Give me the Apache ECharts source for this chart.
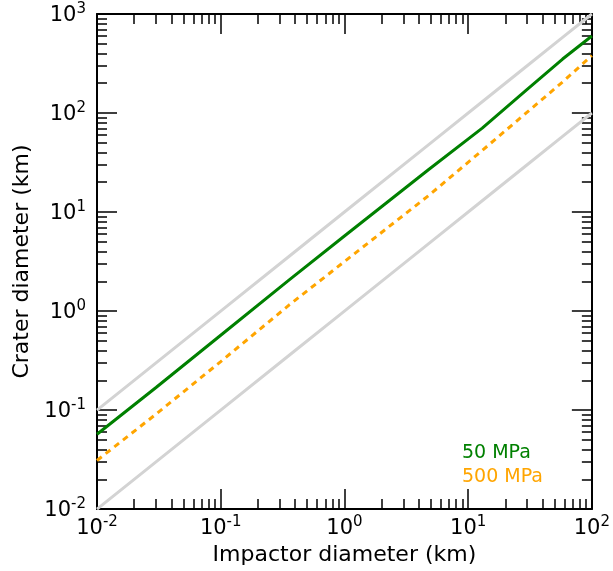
<!DOCTYPE html>
<html>
<head>
<meta charset="utf-8">
<script src="https://cdn.jsdelivr.net/npm/echarts@6/dist/echarts.min.js"></script>
<style>
  html, body { margin: 0; padding: 0; background: #fff; }
  #chart { width: 613px; height: 571px; }
</style>
</head>
<body>
<div id="chart"></div>
<script>
// Data
const impactorKm   = [0.01, 0.03, 0.1, 0.36, 1, 4.8, 13, 30, 58, 100];
const crater50MPa  = [0.057, 0.169, 0.57, 2.08, 5.73, 26.9, 70.3, 173, 351, 600];
const crater500MPa = [0.031, 0.091, 0.309, 1.16, 3.16, 14.7, 41.9, 102, 206, 380];
const upperBound   = [0.1, 0.3, 1, 3.6, 10, 48, 130, 300, 580, 1000];
const lowerBound   = [0.01, 0.03, 0.1, 0.36, 1, 4.8, 13, 30, 58, 100];
const seriesNames  = ['50 MPa', '500 MPa'];
const xDecades = [-2, -1, 0, 1, 2];
const yDecades = [-2, -1, 0, 1, 2, 3];

function pairs(xs, ys) { return xs.map((x, i) => [x, ys[i]]); }
function minorTicks(decades) {
  const out = [];
  for (let i = 0; i < decades.length - 1; i++) {
    for (let k = 2; k <= 9; k++) out.push(decades[i] + Math.log10(k));
  }
  return out;
}

const FONT = 'DejaVu Sans';
const richLabel = {
  b: { fontSize: 21, fontFamily: FONT, color: '#000', verticalAlign: 'bottom', lineHeight: 24 },
  s: { fontSize: 15, fontFamily: FONT, color: '#000', verticalAlign: 'top', lineHeight: 15 }
};
function powLabel(v) {
  const e = Math.round(Math.log10(v));
  return '{b|10}{s|' + e + '}';
}
const lineStyleAxis = { color: '#000', width: 2 };

function majorAxis(pos, min, max, withLabel, extra) {
  return Object.assign({
    type: 'log', logBase: 10, min: min, max: max, position: pos,
    axisLine: { show: true, onZero: false, lineStyle: lineStyleAxis },
    axisTick: { show: true, inside: true, length: 20, lineStyle: { color: '#000', width: 1.5 } },
    axisLabel: withLabel ? { show: true, formatter: powLabel, rich: richLabel } : { show: false },
    splitLine: { show: false }, minorTick: { show: false }, minorSplitLine: { show: false }
  }, extra || {});
}
function minorAxis(pos, lo, hi, decades) {
  return {
    type: 'value', min: lo, max: hi, position: pos,
    axisLine: { show: false, onZero: false },
    axisTick: { show: true, inside: true, length: 10, customValues: minorTicks(decades),
                lineStyle: { color: '#000', width: 1.5 } },
    axisLabel: { show: false }, splitLine: { show: false }
  };
}

const option = {
  animation: false,
  backgroundColor: '#fff',
  grid: { left: 97, top: 14, right: 20, bottom: 61, containLabel: false },
  legend: {
    data: [
      { name: seriesNames[0], textStyle: { color: '#008000' } },
      { name: seriesNames[1], textStyle: { color: '#ffa500' } }
    ],
    orient: 'vertical', left: 452, top: 436, icon: 'none',
    itemWidth: 0, itemHeight: 10, itemGap: 0,
    textStyle: { fontSize: 19, fontFamily: FONT, lineHeight: 24 },
    selectedMode: false
  },
  xAxis: [
    majorAxis('bottom', 0.01, 100, true, {
      name: 'Impactor diameter (km)', nameLocation: 'middle', nameGap: 27,
      nameTextStyle: { fontSize: 22, fontFamily: FONT, color: '#000' },
      axisLabel: { show: true, formatter: powLabel, rich: richLabel, margin: 6, fontSize: 21 }
    }),
    majorAxis('top', 0.01, 100, false),
    minorAxis('bottom', -2, 2, xDecades),
    minorAxis('top', -2, 2, xDecades)
  ],
  yAxis: [
    majorAxis('left', 0.01, 1000, true, {
      name: 'Crater diameter (km)', nameLocation: 'middle', nameGap: 60,
      nameTextStyle: { fontSize: 22, fontFamily: FONT, color: '#000' },
      axisLabel: { show: true, formatter: powLabel, rich: richLabel, margin: 11, fontSize: 21 }
    }),
    majorAxis('right', 0.01, 1000, false),
    minorAxis('left', -2, 3, yDecades),
    minorAxis('right', -2, 3, yDecades)
  ],
  series: [
    { type: 'line', name: 'upper', data: pairs(impactorKm, upperBound), showSymbol: false,
      lineStyle: { color: '#d3d3d3', width: 3 }, silent: true, z: 1 },
    { type: 'line', name: 'lower', data: pairs(impactorKm, lowerBound), showSymbol: false,
      lineStyle: { color: '#d3d3d3', width: 3 }, silent: true, z: 1 },
    { type: 'line', name: seriesNames[0], data: pairs(impactorKm, crater50MPa), showSymbol: false,
      itemStyle: { color: '#008000' }, lineStyle: { color: '#008000', width: 3 }, z: 2 },
    { type: 'line', name: seriesNames[1], data: pairs(impactorKm, crater500MPa), showSymbol: false,
      itemStyle: { color: '#ffa500' }, lineStyle: { color: '#ffa500', width: 3, type: [6, 5] }, z: 3 }
  ]
};
const chart = echarts.init(document.getElementById('chart'), null, { renderer: 'canvas' });
chart.setOption(option);
</script>
</body>
</html>
